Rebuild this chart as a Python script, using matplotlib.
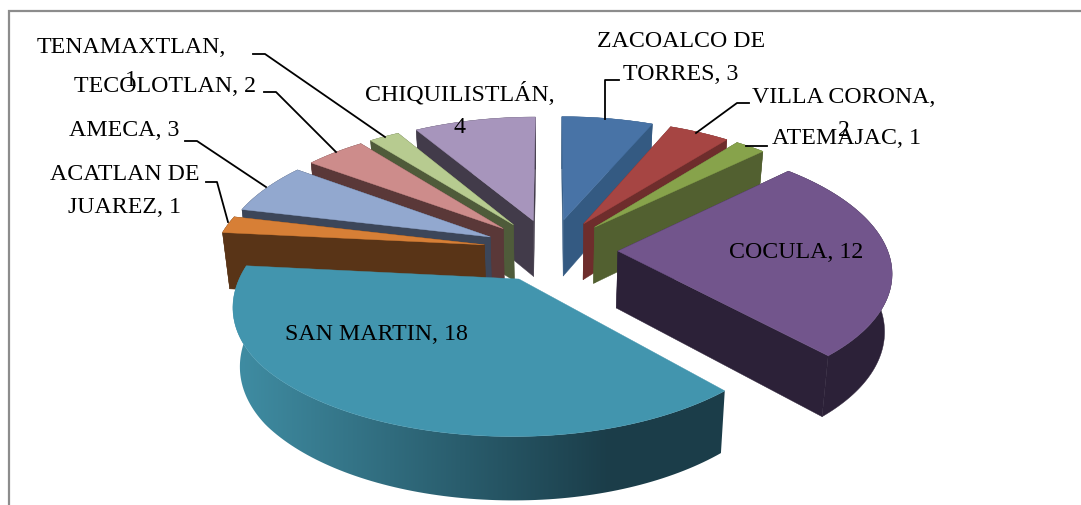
import numpy as np
import matplotlib
matplotlib.use('Agg')
import matplotlib.pyplot as plt
from matplotlib.patches import Polygon

# Slices, clockwise from 12 o'clock
names = ['ZACOALCO DE\nTORRES', 'VILLA CORONA', 'ATEMAJAC', 'COCULA', 'SAN MARTIN',
         'ACATLAN DE\nJUAREZ', 'AMECA', 'TECOLOTLAN', 'TENAMAXTLAN', 'CHIQUILISTLÁN']
values = [3, 2, 1, 12, 18, 1, 3, 2, 1, 4]
top_colors = ['#4873a6', '#a64543', '#87a34b', '#72558c', '#4295ae',
              '#d77f36', '#92a8cf', '#cd8c8b', '#b7cb90', '#a795bc']
side_colors = ['#345a82', '#6e2d2c', '#526030', '#2c2138', '#1b3d49',
               '#593417', '#3c4659', '#5a3838', '#4f5b3a', '#423b4a']

# Label placement in pixels (centre x, centre y of the block)
label_pos = [(681, 58), (844, 114), (846, 139), (796, 252), (376, 334),
             (125, 191), (124, 131), (165, 86), (131, 64), (460, 110)]
value_on_new_line = ['VILLA CORONA', 'TENAMAXTLAN', 'CHIQUILISTLÁN']

# Leader lines in pixels
leaders = [
    [(619, 80), (605, 80), (605, 119)],
    [(749, 103), (737, 103), (696, 133)],
    [(767, 146), (746, 146)],
    [(206, 182), (217, 182), (228, 222)],
    [(185, 141), (197, 141), (266, 187)],
    [(264, 92), (276, 92), (336, 152)],
    [(253, 54), (265, 54), (385, 137)],
]

# Projection of the pie plane onto the picture
CX, CY = 550.5, 250
A, B, K = 269.5, 126, 0.142
EXPLODE = 0.25


def project(x, y):
    s = 1 / (1 + K * y)
    # front left quarter bulges a little more than a plain perspective gives
    bulge = 1 + 0.03 * np.clip((-y - 0.1) / 0.7, 0, 1) * (x < 0)
    return CX + A * x * s * bulge, CY - B * y * s


def drop(px, py):
    # same point on the lower face of the pie
    return CX + 0.978 * (px - CX), py + 57 + 0.037 * (py - CY)


fig = plt.figure(figsize=(10.81, 5.05), dpi=100)
ax = fig.add_axes([0, 0, 1, 1])

# chart frame, only left and top show up in the crop
ax.plot([8.5, 8.5, 1081], [505, 10.5, 10.5], color='#8c8c8c', lw=1.6, zorder=1, solid_joinstyle='miter')

vals = np.array(values, dtype=float)
edges = np.concatenate([[0], np.cumsum(vals)]) / vals.sum() * 2 * np.pi
mids = (edges[:-1] + edges[1:]) / 2

# San Martin rim goes from lit teal on the left to dark at about x=610, then stays dark
rim_left = np.array(matplotlib.colors.to_rgb('#3f8ca2'))
rim_right = np.array(matplotlib.colors.to_rgb(side_colors[4]))
rim_x = np.linspace(200, 760, 560)
frac = np.clip((rim_x - 240) / (610 - 240), 0, 1)[None, :, None]
rim_gradient = rim_left + (rim_right - rim_left) * frac

# back slices first
order = np.argsort(-np.cos(mids))
for i in order:
    t = np.linspace(edges[i], edges[i + 1], 120)
    off_x, off_y = EXPLODE * np.sin(mids[i]), EXPLODE * np.cos(mids[i])
    ox, oy = project(off_x + np.sin(t), off_y + np.cos(t))
    ax_, ay_ = project(off_x, off_y)
    bx, by = drop(ox, oy)
    abx, aby = drop(ax_, ay_)

    # outer wall
    q = list(zip(ox, oy)) + list(zip(bx[::-1], by[::-1]))
    if i == 4:
        wall = Polygon(q, fc='none', ec='none', transform=ax.transData)
        ax.add_patch(wall)
        img = ax.imshow(rim_gradient, extent=(200, 760, 505, 0), aspect='auto', zorder=2)
        img.set_clip_path(wall)
    else:
        ax.add_patch(Polygon(q, fc=side_colors[i], ec=side_colors[i], lw=0.3, zorder=2))

    # radial walls, the one further back goes first
    ends = sorted([0, -1], key=lambda e: oy[e])
    for e in ends:
        if i == 4:
            continue  # both hidden under the top face, would only cover the rim
        q = [(ax_, ay_), (ox[e], oy[e]), (bx[e], by[e]), (abx, aby)]
        ax.add_patch(Polygon(q, fc=side_colors[i], ec=side_colors[i], lw=0.3, zorder=2))

    # top face
    q = [(ax_, ay_)] + list(zip(ox, oy))
    ax.add_patch(Polygon(q, fc=top_colors[i], ec=top_colors[i], lw=0.3, zorder=2))

ax.set_xlim(0, 1081)
ax.set_ylim(505, 0)
ax.axis('off')

for pts in leaders:
    xs, ys = zip(*pts)
    ax.plot(xs, ys, color='black', lw=1.3, zorder=3)

for name, v, (lx, ly) in zip(names, values, label_pos):
    sep = ',\n' if name in value_on_new_line else ', '
    ax.text(lx, ly, name + sep + str(v), ha='center', va='center', ma='center',
            family='Liberation Serif', fontsize=17.2, color='black', linespacing=1.7, zorder=4)

fig.savefig('out.png', dpi=100)
